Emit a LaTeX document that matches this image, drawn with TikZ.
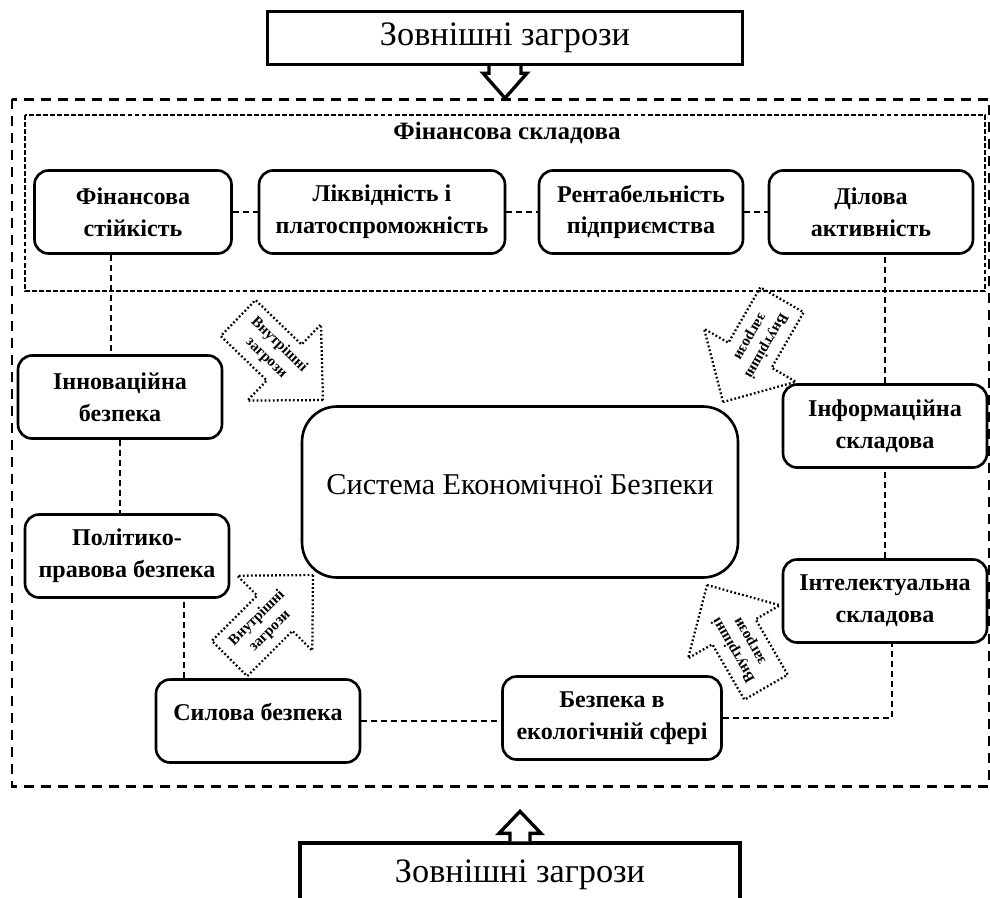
\documentclass[tikz,border=0pt]{standalone}
\usepackage{fontspec}
\setmainfont{Liberation Serif}
\newcommand\threat[3]{%
  \begin{scope}[shift={(#1)},rotate=#2]
    \draw[threatline] (0,0) -- (-54,53) -- (-54,25) -- (-118,25) -- (-118,-25) -- (-54,-25) -- (-54,-53) -- cycle;
    \node[threattext,transform shape] (#3) at (-70,0) {Внутрішні\\загрози};
  \end{scope}}
\begin{document}
\begin{tikzpicture}[x=0.02cm,y=-0.02cm,
    box/.style={draw,line width=1.5pt,rounded corners=0.28cm,align=center,minimum width=4.08cm,minimum height=1.66cm,inner sep=2pt,font=\bfseries\fontsize{13.7}{18}\selectfont},
    core/.style={draw,line width=1.5pt,rounded corners=0.7cm,minimum width=8.72cm,minimum height=3.42cm,font=\fontsize{17.2}{20}\selectfont},
    extbox/.style={draw,line width=1.9pt,fill=white,font=\fontsize{19.5}{23}\selectfont},
    extarrow/.style={line width=1.9pt,fill=white,line join=miter},
    link/.style={line width=1.4pt,dash pattern=on 3.4pt off 2.3pt},
    outerframe/.style={line width=1.7pt,dash pattern=on 5.7pt off 4pt},
    innerframe/.style={line width=1.4pt,dash pattern=on 2.8pt off 1.2pt},
    threatline/.style={line width=1.3pt,dash pattern=on 1pt off 1.3pt,line join=miter},
    threattext/.style={align=center,inner sep=0pt,font=\bfseries\fontsize{8.6}{10.5}\selectfont}]
        \useasboundingbox (0,0) rectangle (990,897);
        \clip (0,0) rectangle (990,897);
        \draw[outerframe] (12,99) rectangle (989,786);
        \draw[innerframe] (25,115) rectangle (985,291);
        \node[font=\bfseries\fontsize{14.2}{17}\selectfont] (fintitle) at (507,133) {Фінансова складова};
        \path
          (133,212) node[box,minimum width=3.94cm] (fin)   {Фінансова\\стійкість}
          (382,212) node[box,minimum width=4.92cm] (liq)   {Ліквідність і\\платоспроможність}
          (641,212) node[box]                      (rent)  {Рентабельність\\підприємства}
          (871,212) node[box]                      (dil)   {Ділова\\активність}
          (120,397) node[box]                      (innov) {Інноваційна\\безпека}
          (127,556) node[box]                      (polit) {Політико-\\правова безпека}
          (258,721) node[box,text depth=10.8pt]    (sil)   {Силова безпека}
          (612,718) node[box,minimum width=4.38cm] (eco)   {Безпека в\\екологічній сфері}
          (885,426) node[box]                      (info)  {Інформаційна\\складова}
          (885,601) node[box]                      (intel) {Інтелектуальна\\складова}
          (520,492) node[core,text depth=8.5pt]    (core)  {Система Економічної Безпеки};
        \draw[link]
          (fin)  -- (liq)
          (liq)  -- (rent)
          (rent) -- (dil)
          ([xshift=-0.44cm]fin.south) -- ([xshift=-0.44cm]fin.south |- innov.north)
          (innov.south) -- (innov.south |- polit.north)
          ([xshift=-1.48cm]sil.north) -- ([xshift=-1.48cm]sil.north |- polit.south)
          (sil.east) -- (sil.east -| eco.west)
          (eco.east) -| ([xshift=0.14cm]intel.south)
          (intel) -- (info)
          (info.north) -- (info.north |- dil.south);
        \threat{323,400}{-44}{thr1}
        \threat{723,402}{240}{thr2}
        \threat{313,575}{45}{thr3}
        \threat{707,585}{120}{thr4}
        \node[extbox,minimum width=9.5cm,minimum height=1.06cm] (extTop) at (505,38) {Зовнішні загрози};
        \node[extbox,minimum width=8.8cm,minimum height=1.28cm] (extBot) at (520,875) {Зовнішні загрози};
        \draw[extarrow] ([xshift=-0.32cm]extTop.south) -- ++(0,7) -- ++(-6,0) -- ++(22,25) -- ++(22,-25) -- ++(-6,0) -- ++(0,-7);
        \draw[extarrow] ([xshift=-0.2cm]extBot.north) -- ++(0,-8) -- ++(-11,0) -- ++(21,-22) -- ++(21,22) -- ++(-11,0) -- ++(0,8);
      \end{tikzpicture}
\end{document}
